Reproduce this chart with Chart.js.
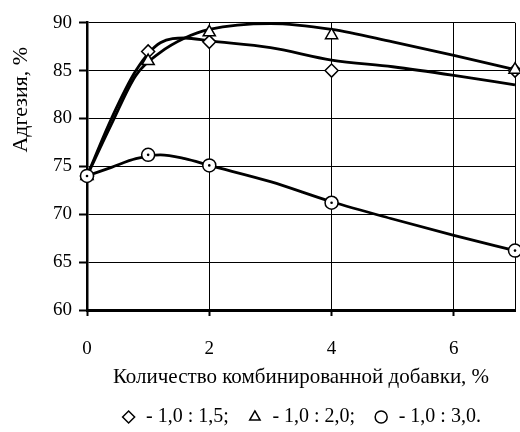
<!DOCTYPE html>
<html>
<head>
<meta charset="utf-8">
<script src="https://cdn.jsdelivr.net/npm/chart.js@4.4.1/dist/chart.umd.min.js"></script>
<style>
html, body { margin: 0; padding: 0; background: #fff; }
#wrap { width: 520px; height: 432px; }
</style>
</head>
<body>
<div id="wrap"><canvas id="chart"></canvas></div>
<script>
// measured points
var doses = [0, 1, 2, 4, 7];
var ratio15 = [74, 87, 88, 85, 85];
var ratio20 = [74, 86, 89, 88.7, 85.1];
var ratio30 = [74, 76.2, 75.1, 71.2, 66.2];

// trend curves
var fitX = [0, 0.4, 0.8, 1.2, 1.6, 2, 3, 4, 5, 6, 7];
var fit15 = [74, 80, 85, 87.9, 88.4, 88.1, 87.4, 86.1, 85.4, 84.5, 83.5];
var fit20 = [74, 79.4, 84.5, 86.9, 88.4, 89.3, 89.9, 89.3, 88, 86.6, 85.1];
var fit30 = [74, 74.9, 75.8, 76.2, 75.8, 75.1, 73.4, 71.3, 69.5, 67.8, 66.2];

var xTicks = [0, 2, 4, 6];
var legendNames = ["- 1,0 : 1,5;", "- 1,0 : 2,0;", "- 1,0 : 3,0."];

var serif = "'Liberation Serif', 'Times New Roman', serif";

function pts(xs, ys) {
    return xs.map(function (x, i) { return { x: x, y: ys[i] }; });
}

function markers(label, ys, style, r) {
    return {
        label: label,
        data: pts(doses, ys),
        showLine: false,
        pointStyle: style,
        pointRadius: r,
        pointHoverRadius: r,
        pointBorderWidth: 1.5,
        borderWidth: 1.2,
        borderColor: "#000",
        backgroundColor: "#fff",
        clip: false
    };
}

function curve(ys) {
    return {
        label: "",
        data: pts(fitX, ys),
        showLine: true,
        pointRadius: 0,
        borderColor: "#000",
        borderWidth: 2.8,
        cubicInterpolationMode: "monotone",
        fill: false,
        clip: false
    };
}

var dot = markers("", ratio30, "circle", 1.3);
dot.backgroundColor = "#000";
dot.pointBorderWidth = 0;

// drawing order: first dataset is on top
var datasets = [
    dot,
    markers(legendNames[2], ratio30, "circle", 6.5),
    markers(legendNames[1], ratio20, "triangle", 7),
    markers(legendNames[0], ratio15, "rectRot", 6.5),
    curve(fit15),
    curve(fit20),
    curve(fit30)
];
var legendOrder = [3, 2, 1];

var yTitle = {
    id: "yTitle",
    afterDraw: function (chart) {
        var ctx = chart.ctx;
        ctx.save();
        ctx.translate(21, chart.chartArea.top + 77);
        ctx.rotate(-Math.PI / 2);
        ctx.font = "22px " + serif;
        ctx.fillStyle = "#000";
        ctx.textAlign = "center";
        ctx.textBaseline = "middle";
        ctx.fillText("Адгезия, %", 0, 0);
        ctx.restore();
    }
};

new Chart(document.getElementById("chart"), {
    type: "scatter",
    data: { datasets: datasets },
    plugins: [yTitle],
    options: {
        responsive: true,
        maintainAspectRatio: false,
        animation: false,
        events: [],
        layout: {
            autoPadding: false,
            padding: { top: 22.7, right: 5, left: 0, bottom: -5 }
        },
        scales: {
            x: {
                type: "linear",
                min: 0,
                max: 7,
                afterBuildTicks: function (scale) {
                    scale.ticks = xTicks.concat([7]).map(function (v) { return { value: v }; });
                },
                afterFit: function (scale) {
                    scale.paddingLeft = 0;
                    scale.paddingRight = 0;
                },
                ticks: {
                    color: "#000",
                    font: { family: serif, size: 19 },
                    padding: 22,
                    maxRotation: 0,
                    callback: function (v) { return v === 7 ? "" : v; }
                },
                grid: {
                    color: "#000",
                    lineWidth: 1,
                    tickLength: 6,
                    tickWidth: 2,
                    tickColor: function (c) { return c.tick && c.tick.value === 7 ? "rgba(0,0,0,0)" : "#000"; }
                },
                border: { color: "#000", width: 3 },
                title: {
                    display: true,
                    text: "Количество комбинированной добавки, %",
                    color: "#000",
                    font: { family: serif, size: 21 },
                    padding: { top: -18.4, bottom: -1.1 }
                }
            },
            y: {
                min: 60,
                max: 90,
                afterFit: function (scale) {
                    scale.width = 87;
                    scale.paddingTop = 0;
                    scale.paddingBottom = 0;
                },
                ticks: {
                    stepSize: 5,
                    color: "#000",
                    font: { family: serif, size: 19 },
                    padding: 7
                },
                grid: {
                    color: "#000",
                    lineWidth: 1,
                    tickLength: 8,
                    tickWidth: 2
                },
                border: { color: "#000", width: 2.5 }
            }
        },
        plugins: {
            tooltip: { enabled: false },
            legend: {
                position: "bottom",
                align: "center",
                fullSize: false,
                labels: {
                    usePointStyle: true,
                    boxWidth: 15,
                    boxHeight: 8.5,
                    padding: 18.5,
                    color: "#000",
                    font: { family: serif, size: 20 },
                    filter: function (item) { return legendOrder.indexOf(item.datasetIndex) >= 0; },
                    sort: function (a, b) {
                        return legendOrder.indexOf(a.datasetIndex) - legendOrder.indexOf(b.datasetIndex);
                    }
                }
            }
        }
    }
});
</script>
</body>
</html>
